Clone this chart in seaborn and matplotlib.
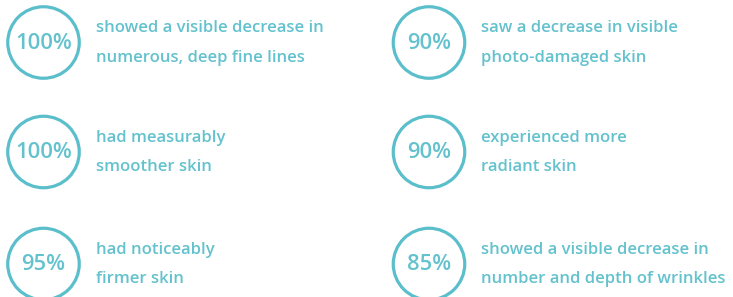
import matplotlib
matplotlib.use("Agg")
import matplotlib.pyplot as plt
import seaborn as sns
import pandas as pd

sns.set_theme(style="white")
plt.rcParams['font.family'] = ['Open Sans', 'DejaVu Sans']

TEAL = "#5bbfcb"
TEXT = "#63c2cd"

# =========================
# DATA
# =========================
percents = ["100%", "100%", "95%", "90%", "90%", "85%"]
line_one = ["showed a visible decrease in", "had measurably", "had noticeably",
            "saw a decrease in visible", "experienced more", "showed a visible decrease in"]
line_two = ["numerous, deep fine lines", "smoother skin", "firmer skin",
            "photo-damaged skin", "radiant skin", "number and depth of wrinkles"]
column = [0, 0, 0, 1, 1, 1]
row = [0, 1, 2, 0, 1, 2]

df = pd.DataFrame({"pct": percents, "l1": line_one, "l2": line_two,
                   "col": column, "row": row})

# layout in pixel space
col_x = [43.5, 429]
row_y = [42.5, 152, 264]
df["cx"] = [col_x[c] for c in df["col"]]
df["cy"] = [row_y[r] for r in df["row"]]

fig = plt.figure(figsize=(7.33, 2.97), dpi=100)
ax = fig.add_axes([0, 0, 1, 1])

# circles as hollow markers (radius ~35px -> diameter ~51pt)
sns.scatterplot(data=df, x="cx", y="cy", s=2650, marker="o",
                facecolors="none", edgecolor=TEAL, linewidth=2.3, ax=ax, legend=False)

for _, r in df.iterrows():
    ax.text(r["cx"], r["cy"] + 1, r["pct"], ha="center", va="center",
            fontsize=15.8, color=TEXT, fontweight="semibold")
    tx = r["cx"] + 52
    ax.text(tx, r["cy"] - 14, r["l1"], ha="left", va="center",
            fontsize=12.0, color=TEXT, fontweight="semibold")
    ax.text(tx, r["cy"] + 15, r["l2"], ha="left", va="center",
            fontsize=12.0, color=TEXT, fontweight="semibold")

ax.set_xlim(0, 733)
ax.set_ylim(297, 0)
ax.axis("off")

fig.savefig("out.png", dpi=100, facecolor="white")
